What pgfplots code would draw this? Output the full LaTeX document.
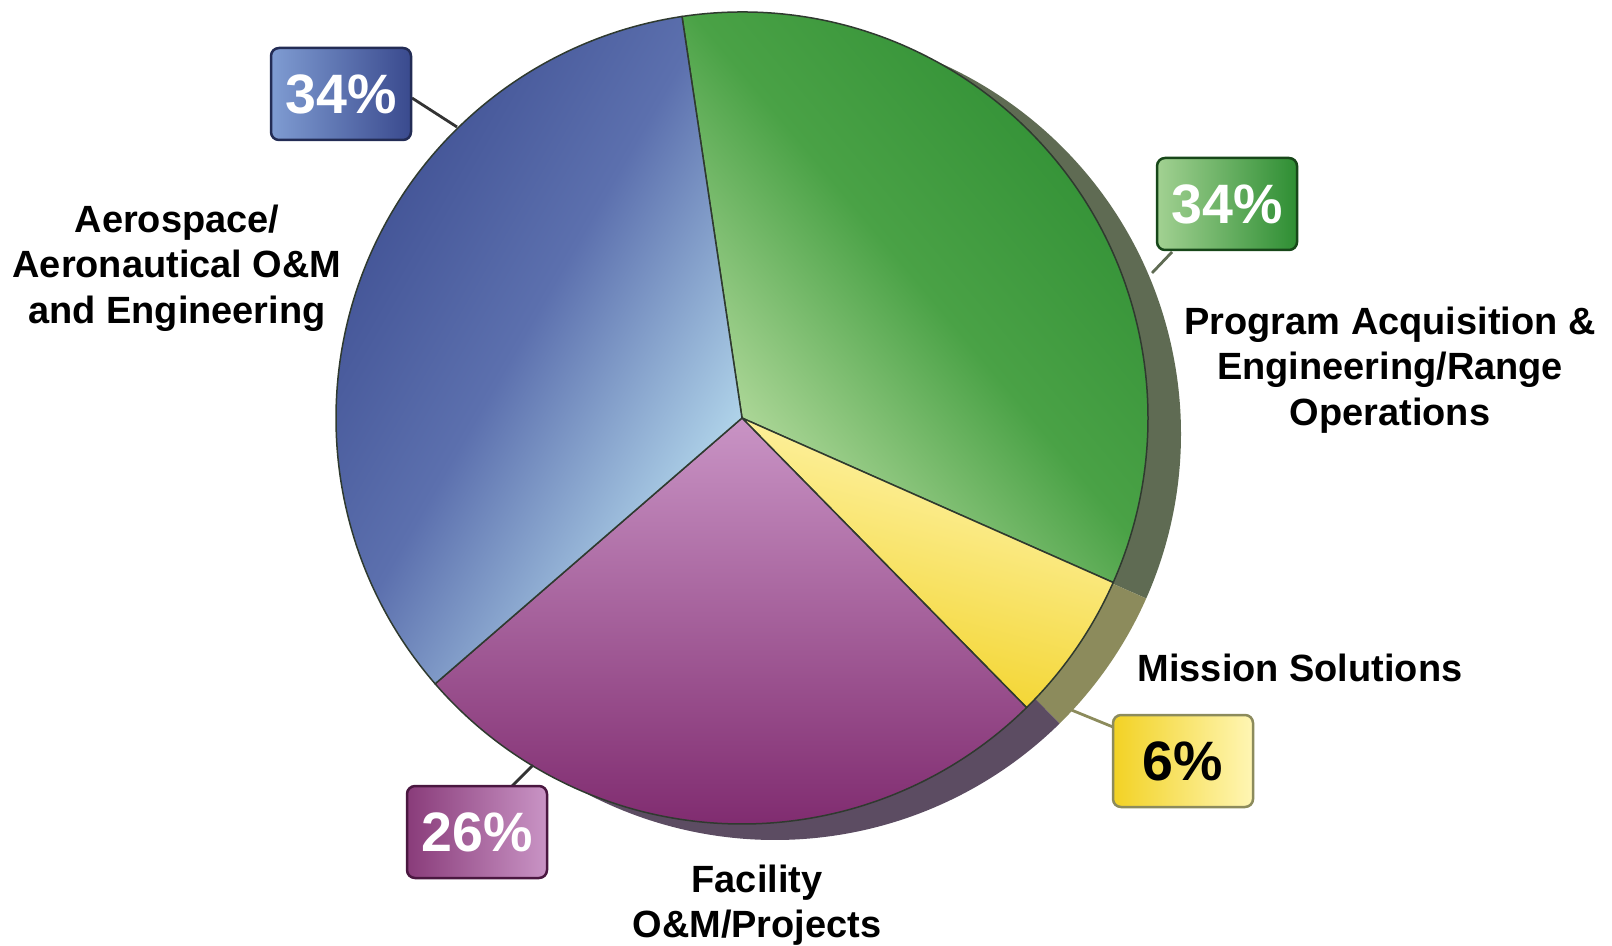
\documentclass[border=0pt]{standalone}
\usepackage{pgfplots}
\pgfplotsset{compat=1.18}
\usepackage{fontspec}
\setmainfont{Liberation Sans}
\definecolor{Bdark}{HTML}{3A4A8E}
\definecolor{Bmid}{HTML}{5C70AE}
\definecolor{Blight}{HTML}{BCE2F2}
\definecolor{Bbox}{HTML}{7F9CD2}
\definecolor{Gdark}{HTML}{2E8E33}
\definecolor{Gmid}{HTML}{4AA246}
\definecolor{Glight}{HTML}{BEE0A6}
\definecolor{Gbox}{HTML}{A2D192}
\definecolor{Plight}{HTML}{C994C5}
\definecolor{Pdark}{HTML}{7C266B}
\definecolor{Ylight}{HTML}{FFF6B4}
\definecolor{Ydark}{HTML}{F2D224}
\definecolor{sideG}{HTML}{5F6B53}
\definecolor{sideY}{HTML}{8C8B5C}
\definecolor{sideP}{HTML}{5C4C62}
\definecolor{sideB}{HTML}{3E4660}
\definecolor{edge}{HTML}{2F3A2F}
\begin{document}
\begin{tikzpicture}
% slice values (percent): Program Acq. 34, Mission Sol. 6, Facility 26, Aerospace 34
\pgfmathsetmacro\aA{98.5}
\pgfmathsetmacro\aB{\aA-3.6*34}
\pgfmathsetmacro\aC{\aB-3.6*6}
\pgfmathsetmacro\aD{\aC-3.6*26}
\pgfmathsetmacro\aE{\aD-3.6*34}
\begin{axis}[width=16.12cm,height=9.45cm,scale only axis,
  xmin=0,xmax=1612,ymin=0,ymax=945,hide axis,clip=false]
\path (axis cs:0,0) rectangle (axis cs:1612,945);
% side (3D edge) of the pie
\fill[overlay,sideB] (axis cs:775,511) -- ++(\aD:4.06cm) arc[start angle=\aD,end angle=\aE,radius=4.06cm] -- cycle;
\fill[overlay,sideG] (axis cs:775,511) -- ++(\aA:4.06cm) arc[start angle=\aA,end angle=\aB,radius=4.06cm] -- cycle;
\fill[overlay,sideY] (axis cs:775,511) -- ++(\aB:4.06cm) arc[start angle=\aB,end angle=\aC,radius=4.06cm] -- cycle;
\fill[overlay,sideP] (axis cs:775,511) -- ++(\aC:4.06cm) arc[start angle=\aC,end angle=\aD,radius=4.06cm] -- cycle;
% slices
\shadedraw[overlay,draw=edge,line width=0.15mm,top color=Gdark,bottom color=Glight,middle color=Gmid,shading angle=-50]
  (axis cs:742,527) -- ++(\aA:4.06cm) arc[start angle=\aA,end angle=\aB,radius=4.06cm] -- cycle;
\shadedraw[overlay,draw=edge,line width=0.15mm,top color=Ylight,bottom color=Ydark,shading angle=-15]
  (axis cs:742,527) -- ++(\aB:4.06cm) arc[start angle=\aB,end angle=\aC,radius=4.06cm] -- cycle;
\shadedraw[overlay,draw=edge,line width=0.15mm,top color=Plight,bottom color=Pdark,shading angle=0]
  (axis cs:742,527) -- ++(\aC:4.06cm) arc[start angle=\aC,end angle=\aD,radius=4.06cm] -- cycle;
\shadedraw[overlay,draw=edge,line width=0.15mm,top color=Bdark,bottom color=Blight,middle color=Bmid,shading angle=60]
  (axis cs:742,527) -- ++(\aD:4.06cm) arc[start angle=\aD,end angle=\aE,radius=4.06cm] -- cycle;
% leader lines
\draw[line width=0.28mm,color=black!80] (axis cs:412,847) -- (axis cs:457,818);
\draw[line width=0.28mm,color=sideG] (axis cs:1172,693) -- (axis cs:1152,672);
\draw[line width=0.28mm,color=sideY] (axis cs:1113,218) -- (axis cs:1069,236);
\draw[line width=0.28mm,color=black!80] (axis cs:512,159) -- (axis cs:533,180);
% percentage boxes
\tikzset{pbox/.style={rounded corners=0.8mm,line width=0.25mm,minimum width=1.40cm,minimum height=0.92cm,inner sep=0pt,
  font=\fontsize{15.8}{18}\selectfont\bfseries}}
\node[pbox,draw=Bdark!60!black,left color=Bbox,right color=Bdark,text=white] at (axis cs:341,851) {34\%};
\node[pbox,draw=Gdark!50!black,left color=Gbox,right color=Gdark,text=white] at (axis cs:1227,741) {34\%};
\node[pbox,draw=sideY,left color=Ydark,right color=Ylight,text=black] at (axis cs:1183,184) {6\%};
\node[pbox,draw=Pdark!60!black,left color=Pdark!90!white,right color=Plight,text=white] at (axis cs:477,113) {26\%};
% category labels
\tikzset{clab/.style={align=center,inner sep=0pt,font=\fontsize{10.8}{12.9}\selectfont\bfseries}}
\node[clab] at (axis cs:177,677) {Aerospace/\\Aeronautical O\&M\\and Engineering};
\node[clab] at (axis cs:1390,575) {Program Acquisition \&\\Engineering/Range\\Operations};
\node[clab] at (axis cs:1300,277) {Mission Solutions};
\node[clab] at (axis cs:757,40) {Facility\\O\&M/Projects};
\end{axis}
\end{tikzpicture}
\end{document}
